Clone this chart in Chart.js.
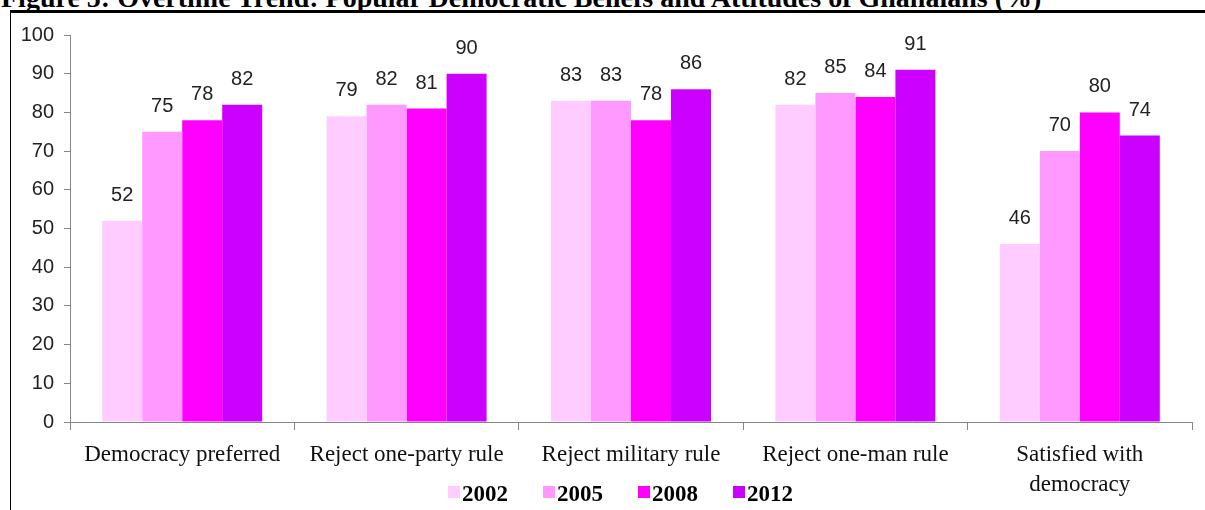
<!DOCTYPE html>
<html>
<head>
<meta charset="utf-8">
<script src="https://cdn.jsdelivr.net/npm/chart.js@4/dist/chart.umd.min.js"></script>
<style>
  html, body { margin: 0; padding: 0; background: #fff; }
  #wrap { position: relative; width: 1205px; height: 510px; overflow: hidden; }
  #title { position: absolute; left: 1px; top: -16px; font: bold 28px/28px "Liberation Serif", serif; color: #000; white-space: nowrap; }
  #topline { position: absolute; left: 10px; top: 10px; width: 1195px; height: 3px; background: #000; }
  #leftline { position: absolute; left: 10px; top: 10px; width: 1px; height: 500px; background: #000; }
  canvas { position: absolute; left: 0; top: 0; }
</style>
</head>
<body>
<div id="wrap">
  <div id="title">Figure 5: Overtime Trend: Popular Democratic Beliefs and Attitudes of Ghanaians (%)</div>
  <div id="topline"></div>
  <div id="leftline"></div>
  <canvas id="c" width="1205" height="510"></canvas>
</div>
<script>
const categories = ['Democracy preferred', 'Reject one-party rule', 'Reject military rule', 'Reject one-man rule', ['Satisfied with', 'democracy']];
const seriesLabels = ['2002', '2005', '2008', '2012'];
const s2002 = [52, 79, 83, 82, 46];
const s2005 = [75, 82, 83, 85, 70];
const s2008 = [78, 81, 78, 84, 80];
const s2012 = [82, 90, 86, 91, 74];
const colors = ['#FFCCFF', '#FF99FF', '#FF00FF', '#CC00FF'];
const yTicks = [0, 10, 20, 30, 40, 50, 60, 70, 80, 90, 100];

const seriesValues = [s2002, s2005, s2008, s2012];

const valueLabels = {
  id: 'valueLabels',
  afterDatasetsDraw(chart) {
    const ctx = chart.ctx;
    ctx.save();
    ctx.font = '20px "Liberation Sans", Arial, sans-serif';
    ctx.fillStyle = '#222';
    ctx.textAlign = 'center';
    ctx.textBaseline = 'alphabetic';
    chart.data.datasets.forEach((ds, i) => {
      const meta = chart.getDatasetMeta(i);
      meta.data.forEach((bar, j) => {
        ctx.fillText(String(ds.data[j]), bar.x, bar.y - 20);
      });
    });
    ctx.restore();
  }
};

const customLegend = {
  id: 'customLegend',
  afterDraw(chart) {
    const ctx = chart.ctx;
    ctx.save();
    ctx.font = 'bold 23px "Liberation Serif", "Times New Roman", serif';
    ctx.textBaseline = 'alphabetic';
    ctx.textAlign = 'left';
    let x = 448;
    chart.data.datasets.forEach((ds) => {
      ctx.fillStyle = ds.backgroundColor;
      ctx.fillRect(x, 486, 12, 12);
      ctx.fillStyle = '#000';
      ctx.fillText(ds.label, x + 14, 501);
      x += 95;
    });
    ctx.restore();
  }
};

new Chart(document.getElementById('c'), {
  type: 'bar',
  data: {
    labels: categories,
    datasets: seriesLabels.map((lab, i) => ({
      label: lab,
      data: seriesValues[i],
      backgroundColor: colors[i],
      borderWidth: 0,
      categoryPercentage: 0.713,
      barPercentage: 1.0
    }))
  },
  options: {
    responsive: false,
    animation: false,
    layout: { padding: { left: 0, top: 35, right: 13, bottom: 0 } },
    plugins: {
      legend: { display: false },
      tooltip: { enabled: false },
      title: { display: false }
    },
    scales: {
      x: {
        afterFit(scale) { scale.height = 88; },
        grid: { display: true, drawOnChartArea: false, drawTicks: true, tickLength: 8, color: '#868686', offset: true },
        border: { display: true, color: '#868686', width: 1 },
        ticks: {
          font: { family: '"Liberation Serif", "Times New Roman", serif', size: 23, lineHeight: 1.3 },
          color: '#111',
          padding: 10,
          maxRotation: 0,
          autoSkip: false
        }
      },
      y: {
        min: 0,
        max: 100,
        afterFit(scale) { scale.width = 70; },
        afterBuildTicks(scale) { scale.ticks = yTicks.map(v => ({ value: v })); },
        grid: { display: true, drawOnChartArea: false, drawTicks: true, tickLength: 6, color: '#868686' },
        border: { display: true, color: '#868686', width: 1 },
        ticks: {
          font: { family: '"Liberation Sans", Arial, sans-serif', size: 20 },
          color: '#222',
          padding: 10
        }
      }
    }
  },
  plugins: [valueLabels, customLegend]
});
</script>
</body>
</html>
